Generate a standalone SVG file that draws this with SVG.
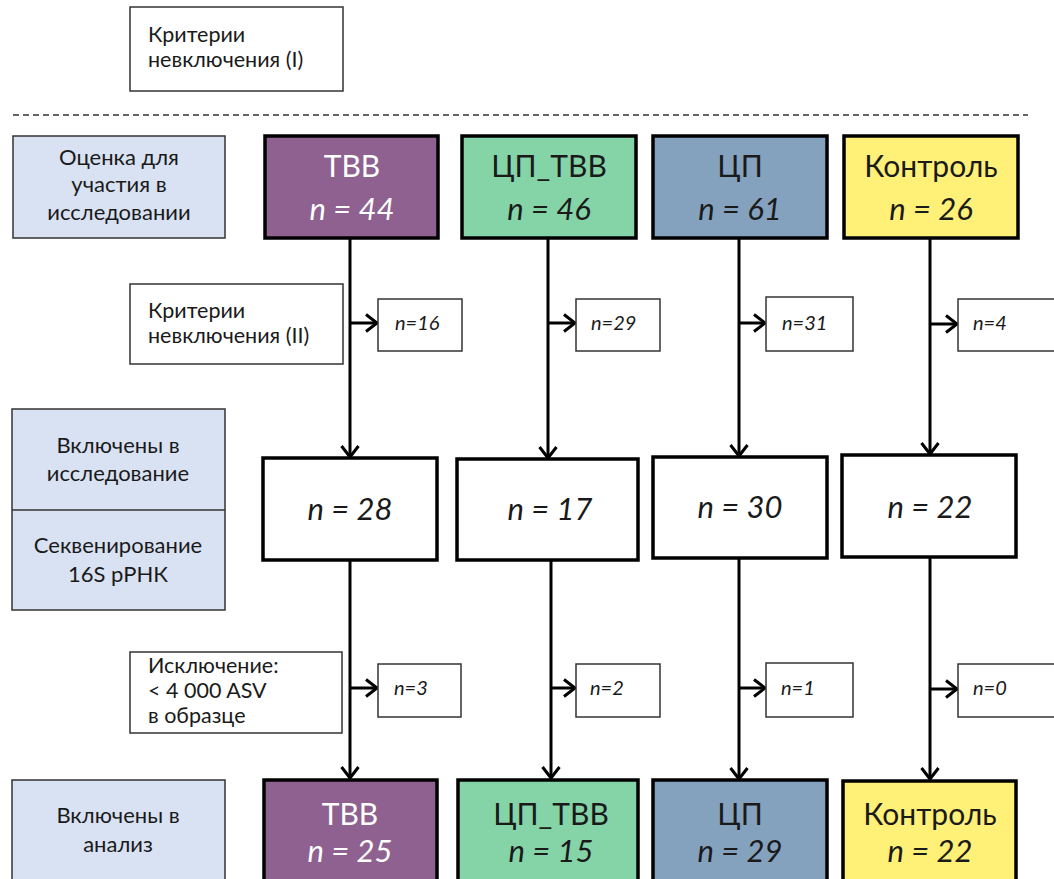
<svg xmlns="http://www.w3.org/2000/svg" width="1054" height="879" viewBox="0 0 1054 879">
  <defs>
    <marker id="arr" markerUnits="userSpaceOnUse" markerWidth="16" markerHeight="20" refX="13" refY="10" orient="auto">
      <path d="M2,1.5 L13,10 L2,18.5" fill="none" stroke="#000" stroke-width="3"/>
    </marker>
  </defs>
  <style>
    text { font-family: Lato, "Open Sans", "Liberation Sans", sans-serif; fill: #1a1a1a; }
    .lbl { font-size: 22px; text-anchor: middle; }
    .crit { font-size: 21.5px; }
    .big { font-size: 30px; text-anchor: middle; }
    .num { font-size: 31px; font-style: italic; text-anchor: middle; }
    .small { font-size: 20px; font-style: italic; }
    .stage { fill: #d9e2f3; stroke: #333; stroke-width: 1.5; }
    .note { fill: #fff; stroke: #333; stroke-width: 1.5; }
    .grp { stroke: #000; stroke-width: 3.5; }
    .mid { fill: #fff; stroke: #000; stroke-width: 3.5; }
    .tvv { fill: #8e6190; }
    .cptvv { fill: #84d4a8; }
    .cp { fill: #84a2be; }
    .ctrl { fill: #fff078; }
    .white { fill: #fff; }
    .conn { stroke: #000; stroke-width: 3; fill: none; }
  </style>
  <rect width="1054" height="879" fill="#fff"/>

  <!-- top exclusion note and separator -->
  <g id="crit1">
    <rect class="note" x="130" y="7" width="213" height="84"/>
    <text class="crit" x="148" y="42">Критерии</text>
    <text class="crit" x="148" y="67">невключения (I)</text>
  </g>
  <line x1="13" y1="115" x2="1028" y2="115" stroke="#333" stroke-width="1.5" stroke-dasharray="6,4"/>

  <!-- stage labels -->
  <g id="stage-eval">
    <rect class="stage" x="13" y="136" width="212" height="102"/>
    <text class="lbl" x="119" y="165">Оценка для</text>
    <text class="lbl" x="119" y="192">участия в</text>
    <text class="lbl" x="119" y="220">исследовании</text>
  </g>
  <g id="stage-incl">
    <rect class="stage" x="12" y="409" width="213" height="201"/>
    <line x1="12" y1="510" x2="225" y2="510" stroke="#333" stroke-width="1.5"/>
    <text class="lbl" x="118" y="453">Включены в</text>
    <text class="lbl" x="118" y="481">исследование</text>
    <text class="lbl" x="118" y="553">Секвенирование</text>
    <text class="lbl" x="118" y="582">16S рРНК</text>
  </g>
  <g id="stage-anal">
    <rect class="stage" x="12" y="780" width="213" height="110"/>
    <text class="lbl" x="118" y="823">Включены в</text>
    <text class="lbl" x="118" y="852">анализ</text>
  </g>

  <!-- exclusion notes between stages -->
  <g id="crit2">
    <rect class="note" x="130" y="284" width="213" height="80"/>
    <text class="crit" x="148" y="318">Критерии</text>
    <text class="crit" x="148" y="343">невключения (II)</text>
  </g>
  <g id="crit3">
    <rect class="note" x="130" y="652" width="212" height="81"/>
    <text class="crit" x="148" y="673">Исключение:</text>
    <text class="crit" x="148" y="698">&lt; 4 000 ASV</text>
    <text class="crit" x="148" y="723">в образце</text>
  </g>

  <!-- connectors -->
  <g id="connectors">
    <line class="conn" x1="350" y1="238" x2="350" y2="457" marker-end="url(#arr)"/>
    <line class="conn" x1="548" y1="238" x2="548" y2="458" marker-end="url(#arr)"/>
    <line class="conn" x1="739" y1="238" x2="739" y2="456" marker-end="url(#arr)"/>
    <line class="conn" x1="930" y1="238" x2="930" y2="454" marker-end="url(#arr)"/>

    <line class="conn" x1="350" y1="323" x2="377" y2="323" marker-end="url(#arr)"/>
    <line class="conn" x1="548" y1="323" x2="575" y2="323" marker-end="url(#arr)"/>
    <line class="conn" x1="739" y1="323" x2="765" y2="323" marker-end="url(#arr)"/>
    <line class="conn" x1="930" y1="324" x2="957" y2="324" marker-end="url(#arr)"/>

    <line class="conn" x1="350" y1="560" x2="350" y2="778" marker-end="url(#arr)"/>
    <line class="conn" x1="551" y1="560" x2="551" y2="778" marker-end="url(#arr)"/>
    <line class="conn" x1="739" y1="558" x2="739" y2="779" marker-end="url(#arr)"/>
    <line class="conn" x1="930" y1="557" x2="930" y2="779" marker-end="url(#arr)"/>

    <line class="conn" x1="350" y1="688" x2="377" y2="688" marker-end="url(#arr)"/>
    <line class="conn" x1="551" y1="688" x2="575" y2="688" marker-end="url(#arr)"/>
    <line class="conn" x1="739" y1="688" x2="765" y2="688" marker-end="url(#arr)"/>
    <line class="conn" x1="930" y1="689" x2="957" y2="689" marker-end="url(#arr)"/>
  </g>

  <!-- group boxes: assessment -->
  <g id="tvv-1">
    <rect class="grp tvv" x="265" y="136" width="173" height="102"/>
    <text class="big white" x="352" y="177">ТВВ</text>
    <text class="num white" x="352" y="220">n = 44</text>
  </g>
  <g id="cptvv-1">
    <rect class="grp cptvv" x="462" y="136" width="174" height="102"/>
    <text class="big" x="549" y="177">ЦП_ТВВ</text>
    <text class="num" x="549" y="220">n = 46</text>
  </g>
  <g id="cp-1">
    <rect class="grp cp" x="653" y="136" width="174" height="102"/>
    <text class="big" x="740" y="177">ЦП</text>
    <text class="num" x="740" y="220">n = 61</text>
  </g>
  <g id="ctrl-1">
    <rect class="grp ctrl" x="844" y="136" width="174" height="102"/>
    <text class="big" x="931" y="177">Контроль</text>
    <text class="num" x="931" y="220">n = 26</text>
  </g>

  <!-- excluded counts (II) -->
  <g id="ex2-tvv"><rect class="note" x="378" y="299" width="84" height="52"/><text class="small" x="395" y="330">n=16</text></g>
  <g id="ex2-cptvv"><rect class="note" x="576" y="299" width="84" height="52"/><text class="small" x="591" y="330">n=29</text></g>
  <g id="ex2-cp"><rect class="note" x="766" y="297" width="87" height="54"/><text class="small" x="782" y="330">n=31</text></g>
  <g id="ex2-ctrl"><rect class="note" x="958" y="299" width="100" height="52"/><text class="small" x="973" y="330">n=4</text></g>

  <!-- included -->
  <g id="tvv-2"><rect class="mid" x="263" y="458" width="174" height="102"/><text class="num" x="350" y="520">n = 28</text></g>
  <g id="cptvv-2"><rect class="mid" x="457" y="459" width="181" height="101"/><text class="num" x="550" y="520">n = 17</text></g>
  <g id="cp-2"><rect class="mid" x="653" y="457" width="174" height="101"/><text class="num" x="740" y="518">n = 30</text></g>
  <g id="ctrl-2"><rect class="mid" x="842" y="455" width="174" height="102"/><text class="num" x="930" y="518">n = 22</text></g>

  <!-- excluded counts (ASV) -->
  <g id="ex3-tvv"><rect class="note" x="378" y="664" width="83" height="53"/><text class="small" x="394" y="695">n=3</text></g>
  <g id="ex3-cptvv"><rect class="note" x="576" y="664" width="84" height="53"/><text class="small" x="590" y="695">n=2</text></g>
  <g id="ex3-cp"><rect class="note" x="766" y="663" width="87" height="54"/><text class="small" x="781" y="695">n=1</text></g>
  <g id="ex3-ctrl"><rect class="note" x="958" y="664" width="100" height="53"/><text class="small" x="973" y="695">n=0</text></g>

  <!-- analysed groups -->
  <g id="tvv-3">
    <rect class="grp tvv" x="264" y="780" width="173" height="110"/>
    <text class="big white" x="350" y="825">ТВВ</text>
    <text class="num white" x="350" y="862">n = 25</text>
  </g>
  <g id="cptvv-3">
    <rect class="grp cptvv" x="458" y="780" width="180" height="110"/>
    <text class="big" x="551" y="825">ЦП_ТВВ</text>
    <text class="num" x="551" y="862">n = 15</text>
  </g>
  <g id="cp-3">
    <rect class="grp cp" x="653" y="780" width="174" height="110"/>
    <text class="big" x="740" y="825">ЦП</text>
    <text class="num" x="740" y="862">n = 29</text>
  </g>
  <g id="ctrl-3">
    <rect class="grp ctrl" x="843" y="781" width="173" height="110"/>
    <text class="big" x="930" y="825">Контроль</text>
    <text class="num" x="930" y="862">n = 22</text>
  </g>
</svg>
